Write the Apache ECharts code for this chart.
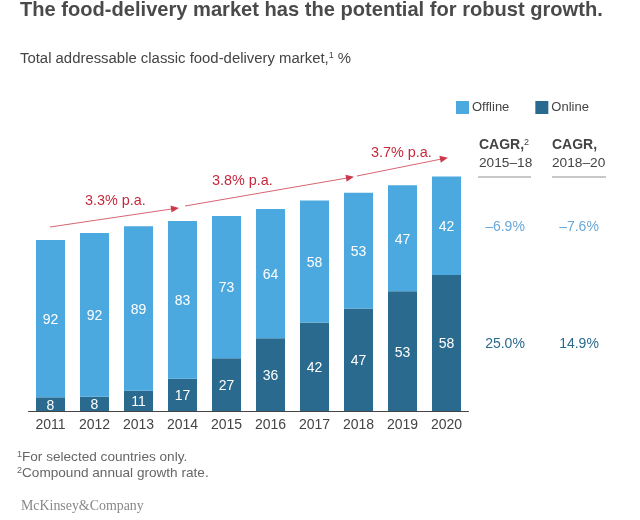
<!DOCTYPE html>
<html><head><meta charset="utf-8">
<style>html,body{margin:0;padding:0;background:#fff}#c{width:640px;height:520px}</style>
<script src="https://cdn.jsdelivr.net/npm/echarts@6/dist/echarts.min.js"></script>
</head><body><div id="c"></div>
<script>
const years=['2011','2012','2013','2014','2015','2016','2017','2018','2019','2020'];
const offlineShare=[92,92,89,83,73,64,58,53,47,42];
const onlineShare=[8,8,11,17,27,36,42,47,53,58];
const marketIndex=[100,104,108,111,114,118,123,127.5,132,137];
const growthLabels=['3.3% p.a.','3.8% p.a.','3.7% p.a.'];
const cagrOffline=['–6.9%','–7.6%'];
const cagrOnline=['25.0%','14.9%'];

const FONT='"Liberation Sans", Arial, sans-serif';
const OFF='#4ba9df', ON='#2a6a8e', RED='#c6283c', TXT='#444444';

const chart=echarts.init(document.getElementById('c'),null,{renderer:'canvas'});
const seg=(share)=>share.map((s,i)=>marketIndex[i]*s/100);
const lab=(share)=>({show:true,position:'inside',offset:[0,1.5],color:'#fff',fontSize:14,fontFamily:FONT,
  formatter:p=>String(share[p.dataIndex])});
const arrow=(x1,y1,x2,y2)=>[{x:x1,y:y1},{x:x2,y:y2}];
const txt=(x,y,text,fs,color,extra)=>({type:'text',x,y,silent:true,style:Object.assign({text,fontSize:fs,fill:color,fontFamily:FONT,textVerticalAlign:'middle'},extra||{})});

chart.setOption({
  animation:false,
  backgroundColor:'#fff',
  grid:{left:28.5,width:440,top:103,height:308,containLabel:false},
  legend:{left:451,top:96,itemWidth:13,itemHeight:13,itemGap:26,icon:'rect',selectedMode:false,
    data:['Offline','Online'],textStyle:{fontSize:13,color:TXT,fontFamily:FONT,padding:[0,0,0,-2]}},
  xAxis:{type:'category',data:years,axisTick:{show:false},
    axisLine:{lineStyle:{color:'#444',width:1}},
    axisLabel:{color:TXT,fontSize:14,fontFamily:FONT,margin:7,interval:0}},
  yAxis:{type:'value',min:0,max:180,show:false,splitLine:{show:false}},
  series:[
    {name:'Online',type:'bar',stack:'t',barWidth:29,itemStyle:{color:ON},data:seg(onlineShare),label:lab(onlineShare)},
    {name:'Offline',type:'bar',stack:'t',barWidth:29,itemStyle:{color:OFF},data:seg(offlineShare),label:lab(offlineShare),
     markLine:{silent:true,symbol:['none','triangle'],symbolSize:[7,8],animation:false,
       lineStyle:{color:RED,width:0.8,type:'solid',opacity:0.9},label:{show:false},
       data:[arrow(50,227,175,208.5),arrow(185,206,350,177.5),arrow(357,176,444,158.5)]}}
  ],
  graphic:[
    txt(20,10.5,'The food-delivery market has the potential for robust growth.',20.1,'#4a4a4a',{fontWeight:'bold'}),
    {type:'text',x:20,y:59,silent:true,style:{fontFamily:FONT,fontSize:14.9,fill:TXT,textVerticalAlign:'middle',
      text:'{a|Total addressable classic food-delivery market,}{s|1}{a| %}',
      rich:{a:{fontSize:14.9,fill:TXT,fontFamily:FONT},s:{fontSize:9,fill:TXT,fontFamily:FONT,verticalAlign:'top',padding:[0,0,5,0]}}}},
    txt(85,201,growthLabels[0],14.4,RED),
    txt(212,181,growthLabels[1],14.4,RED),
    txt(371,153,growthLabels[2],14.4,RED),
    {type:'text',x:479,y:145,silent:true,style:{fontFamily:FONT,textVerticalAlign:'middle',
      text:'{b|CAGR,}{s|2}',rich:{b:{fontSize:14,fontWeight:'bold',fill:TXT,fontFamily:FONT},s:{fontSize:9,fill:TXT,fontFamily:FONT,padding:[0,0,5,0]}}}},
    txt(479,163,'2015–18',13.7,TXT),
    txt(552,145,'CAGR,',14,TXT,{fontWeight:'bold'}),
    txt(552,163,'2018–20',13.7,TXT),
    {type:'line',silent:true,shape:{x1:478,y1:177,x2:531,y2:177},style:{stroke:'#c8c8c8',lineWidth:2}},
    {type:'line',silent:true,shape:{x1:552,y1:177,x2:606,y2:177},style:{stroke:'#c8c8c8',lineWidth:2}},
    txt(505,227,cagrOffline[0],14,'#6ba9d8',{textAlign:'center'}),
    txt(579,227,cagrOffline[1],14,'#6ba9d8',{textAlign:'center'}),
    txt(505,344,cagrOnline[0],14,ON,{textAlign:'center'}),
    txt(579,344,cagrOnline[1],14,ON,{textAlign:'center'}),
    {type:'text',x:17,y:457,silent:true,style:{fontFamily:FONT,textVerticalAlign:'middle',
      text:'{s|1}{a|For selected countries only.}',
      rich:{a:{fontSize:13.6,fill:'#666',fontFamily:FONT},s:{fontSize:9,fill:'#666',fontFamily:FONT,padding:[0,0,5,0]}}}},
    {type:'text',x:17,y:473,silent:true,style:{fontFamily:FONT,textVerticalAlign:'middle',
      text:'{s|2}{a|Compound annual growth rate.}',
      rich:{a:{fontSize:13.6,fill:'#666',fontFamily:FONT},s:{fontSize:9,fill:'#666',fontFamily:FONT,padding:[0,0,5,0]}}}},
    txt(21,506,'McKinsey&Company',13.9,'#888',{fontFamily:'"Liberation Serif", serif'})
  ]
});
</script></body></html>
